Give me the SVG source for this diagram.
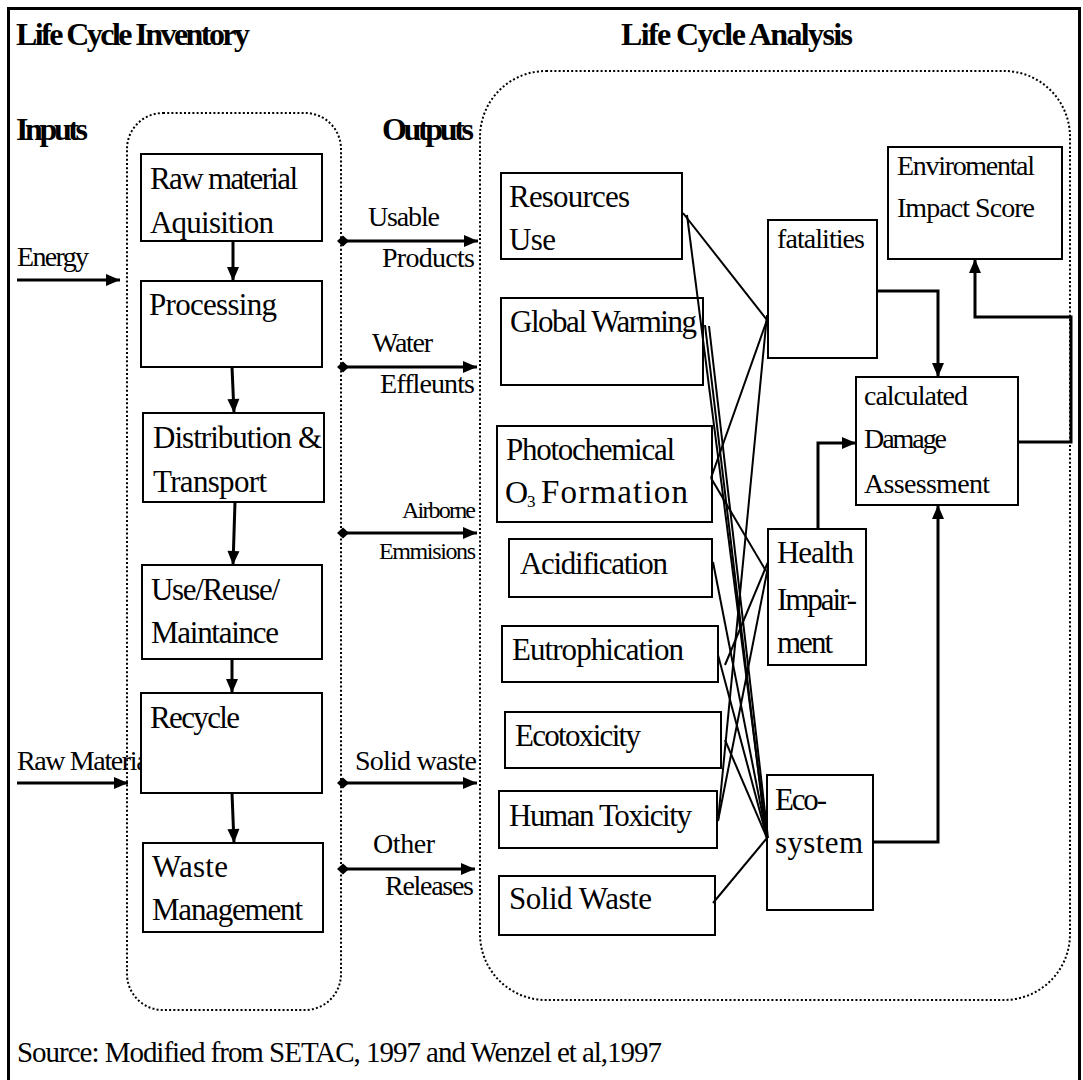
<svg xmlns="http://www.w3.org/2000/svg" width="1083" height="1080" viewBox="0 0 1083 1080">
  <defs>
    <style>
      .box { fill: #fff; stroke: #000; stroke-width: 2; }
      .t { font-family: "Liberation Serif", "Times New Roman", serif; font-size: 31px; fill: #000; }
      .b { font-weight: bold; font-size: 32px; }
      .o { font-size: 28px; }
      .m { font-size: 28px; }
      .s { font-size: 24px; }
      .thin { fill: none; stroke: #000; stroke-width: 2; }
      .arr { fill: none; stroke: #000; stroke-width: 3; marker-end: url(#ah); }
      .flow { fill: none; stroke: #000; stroke-width: 3; marker-start: url(#dm); marker-end: url(#ah); }
      .dot { fill: none; stroke: #000; stroke-width: 2; stroke-dasharray: 2 2.2; }
    </style>
    <marker id="ah" markerUnits="userSpaceOnUse" markerWidth="16" markerHeight="14" refX="14" refY="6" orient="auto" overflow="visible">
      <path d="M0,0 L14,6 L0,12 Z" fill="#000"/>
    </marker>
    <marker id="dm" markerUnits="userSpaceOnUse" markerWidth="14" markerHeight="12" refX="6" refY="5.5" orient="auto" overflow="visible">
      <path d="M0,5.5 L6,0 L12,5.5 L6,11 Z" fill="#000"/>
    </marker>
  </defs>

  <rect width="1083" height="1080" fill="#fff"/>

  <!-- outer frame, open at the bottom -->
  <path d="M8.5,1090 V8.5 H1079.5 V1090" fill="none" stroke="#000" stroke-width="3"/>

  <!-- dotted groupings -->
  <g id="containers">
    <rect class="dot" x="127" y="113" width="214" height="897" rx="36" ry="36"/>
    <rect class="dot" x="480" y="71" width="590" height="929" rx="66" ry="66"/>
  </g>

  <!-- headings and flow labels -->
  <g id="labels">
    <text class="t b" x="16" y="45" textLength="234">Life Cycle Inventory</text>
    <text class="t b" x="621" y="45" textLength="232">Life Cycle Analysis</text>
    <text class="t b" x="16" y="140" textLength="72">Inputs</text>
    <text class="t b" x="382" y="140" textLength="92">Outputs</text>
    <text class="t o" x="17" y="266" textLength="72">Energy</text>
    <text class="t o" x="17" y="770" textLength="138">Raw Material</text>
    <text class="t o" x="368" y="226" textLength="72">Usable</text>
    <text class="t o" x="382" y="267" textLength="93">Products</text>
    <text class="t o" x="372" y="352" textLength="61">Water</text>
    <text class="t o" x="380" y="393" textLength="95">Effleunts</text>
    <text class="t s" x="402" y="518" textLength="74">Airborne</text>
    <text class="t s" x="379" y="559" textLength="97">Emmisions</text>
    <text class="t o" x="355" y="770" textLength="122">Solid waste</text>
    <text class="t o" x="373" y="853" textLength="62">Other</text>
    <text class="t o" x="385" y="895" textLength="89">Releases</text>
    <text class="t" x="17" y="1062" textLength="645" style="font-size:29px">Source: Modified from SETAC, 1997 and Wenzel et al,1997</text>
  </g>

  <!-- inventory stages -->
  <g id="raw-material">
    <rect class="box" x="141" y="154" width="181" height="87"/>
    <text class="t" x="150" y="189" textLength="148">Raw material</text>
    <text class="t" x="150" y="233" textLength="124">Aquisition</text>
  </g>
  <g id="processing">
    <rect class="box" x="141" y="281" width="181" height="86"/>
    <text class="t" x="149" y="315" textLength="128">Processing</text>
  </g>
  <g id="distribution">
    <rect class="box" x="143" y="413" width="181" height="89"/>
    <text class="t" x="153" y="448" textLength="169">Distribution &amp;</text>
    <text class="t" x="153" y="492" textLength="114">Transport</text>
  </g>
  <g id="use">
    <rect class="box" x="142" y="565" width="180" height="94"/>
    <text class="t" x="151" y="600" textLength="129">Use/Reuse/</text>
    <text class="t" x="151" y="643" textLength="128">Maintaince</text>
  </g>
  <g id="recycle">
    <rect class="box" x="141" y="693" width="181" height="100"/>
    <text class="t" x="150" y="728" textLength="90">Recycle</text>
  </g>
  <g id="waste-management">
    <rect class="box" x="143" y="843" width="180" height="89"/>
    <text class="t" x="152" y="877" textLength="76">Waste</text>
    <text class="t" x="152" y="920" textLength="151">Management</text>
  </g>

  <!-- impact categories -->
  <g id="resources-use">
    <rect class="box" x="501" y="173" width="181" height="86"/>
    <text class="t" x="509" y="207" textLength="121">Resources</text>
    <text class="t" x="509" y="250" textLength="47">Use</text>
  </g>
  <g id="global-warming">
    <rect class="box" x="501" y="298" width="202" height="87"/>
    <text class="t" x="510" y="332" textLength="187">Global Warming</text>
  </g>
  <g id="photochemical">
    <rect class="box" x="497" y="426" width="215" height="96"/>
    <text class="t" x="506" y="460" textLength="169">Photochemical</text>
    <text class="t" x="505" y="503" style="font-size:32px">O</text>
    <text class="t" x="527" y="507" style="font-size:17px">3</text>
    <text class="t" x="541" y="503" textLength="147" style="font-size:33px">Formation</text>
  </g>
  <g id="acidification">
    <rect class="box" x="509" y="539" width="203" height="58"/>
    <text class="t" x="520" y="574" textLength="148">Acidification</text>
  </g>
  <g id="eutrophication">
    <rect class="box" x="502" y="626" width="216" height="56"/>
    <text class="t" x="512" y="660" textLength="172">Eutrophication</text>
  </g>
  <g id="ecotoxicity">
    <rect class="box" x="505" y="712" width="216" height="56"/>
    <text class="t" x="515" y="746" textLength="126">Ecotoxicity</text>
  </g>
  <g id="human-toxicity">
    <rect class="box" x="499" y="791" width="218" height="57"/>
    <text class="t" x="509" y="826" textLength="183">Human Toxicity</text>
  </g>
  <g id="solid-waste">
    <rect class="box" x="499" y="876" width="216" height="59"/>
    <text class="t" x="509" y="909" textLength="143">Solid Waste</text>
  </g>

  <!-- damage categories and results -->
  <g id="fatalities">
    <rect class="box" x="768" y="220" width="109" height="138"/>
    <text class="t m" x="777" y="248" textLength="88">fatalities</text>
  </g>
  <g id="health-impairment">
    <rect class="box" x="768" y="529" width="98" height="136"/>
    <text class="t" x="777" y="563" textLength="77">Health</text>
    <text class="t" x="777" y="610" textLength="80">Impair-</text>
    <text class="t" x="777" y="653" textLength="56">ment</text>
  </g>
  <g id="ecosystem">
    <rect class="box" x="767" y="775" width="106" height="135"/>
    <text class="t" x="775" y="810" textLength="52">Eco-</text>
    <text class="t" x="775" y="853" textLength="88">system</text>
  </g>
  <g id="damage-assessment">
    <rect class="box" x="856" y="377" width="162" height="128"/>
    <text class="t m" x="864" y="405" textLength="104">calculated</text>
    <text class="t m" x="864" y="448" textLength="83">Damage</text>
    <text class="t m" x="864" y="493" textLength="126">Assessment</text>
  </g>
  <g id="impact-score">
    <rect class="box" x="888" y="147" width="174" height="112"/>
    <text class="t m" x="897" y="175" textLength="138">Enviromental</text>
    <text class="t m" x="897" y="217" textLength="138">Impact Score</text>
  </g>

  <g id="connectors">
    <!-- inputs -->
    <path class="arr" d="M17,280 H120"/>
    <path class="arr" d="M17,783 H128"/>
    <!-- outputs -->
    <path class="flow" d="M343,241 H478"/>
    <path class="flow" d="M343,367 H477"/>
    <path class="flow" d="M343,533 H477"/>
    <path class="flow" d="M343,783 H477"/>
    <path class="flow" d="M343,869 H475"/>
    <!-- stage sequence -->
    <path class="arr" d="M233,241 L233,281"/>
    <path class="arr" d="M232,367 L234,413"/>
    <path class="arr" d="M235,502 L233,565"/>
    <path class="arr" d="M232,659 L232,693"/>
    <path class="arr" d="M232,793 L234,843"/>
    <!-- category to damage links -->
    <path class="thin" d="M683,213 L767,320"/>
    <path class="thin" d="M687,215 L767,838"/>
    <path class="thin" d="M705,325 L766,836"/>
    <path class="thin" d="M709,326 L768,838"/>
    <path class="thin" d="M711,478 L767,320"/>
    <path class="thin" d="M711,478 L766,571"/>
    <path class="thin" d="M713,562 L767,838"/>
    <path class="thin" d="M718,655 L767,838"/>
    <path class="thin" d="M725,665 L768,562"/>
    <path class="thin" d="M725,740 L767,838"/>
    <path class="thin" d="M718,821 L768,567"/>
    <path class="thin" d="M718,821 L767,315"/>
    <path class="thin" d="M713,903 L767,838"/>
    <!-- damage aggregation -->
    <path class="arr" d="M877,291 H938 V377"/>
    <path class="arr" d="M818,529 V443 H856"/>
    <path class="arr" d="M873,842 H938 V505"/>
    <path class="arr" d="M1018,442 H1071 V317 H975 V259"/>
  </g>
</svg>
